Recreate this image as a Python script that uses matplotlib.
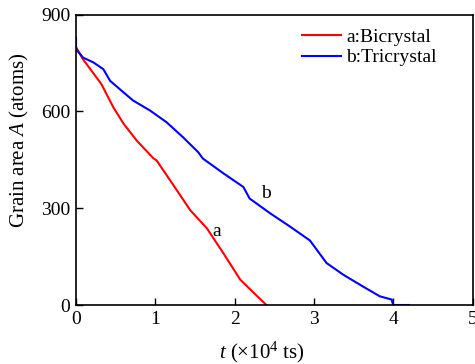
import matplotlib
matplotlib.use("Agg")
import matplotlib.pyplot as plt

plt.rcParams['font.family'] = ['Liberation Serif', 'DejaVu Serif']
plt.rcParams['mathtext.fontset'] = 'custom'
plt.rcParams['mathtext.rm'] = 'Liberation Serif'
plt.rcParams['mathtext.it'] = 'Liberation Serif:italic'

t_a = [0.0, 0.0, 0.085, 0.32, 0.47, 0.6, 0.765, 0.975, 1.017, 1.227, 1.44, 1.65, 1.857, 2.07, 2.24, 2.38, 2.40]
A_a = [830, 800, 763, 685, 613, 562, 510, 455, 448, 372, 294, 238, 161, 79, 38, 5, 0]

t_b = [0.0, 0.0, 0.09, 0.22, 0.345, 0.43, 0.6, 0.72, 0.933, 1.14, 1.35, 1.54, 1.6, 1.86, 2.11, 2.19,
       2.45, 2.70, 2.95, 3.16, 3.37, 3.58, 3.83, 3.98, 4.0, 4.2]
A_b = [825, 793, 767, 752, 731, 695, 659, 634, 603, 567, 520, 474, 454, 408, 366, 330,
       284, 243, 200, 130, 94, 63, 27, 17, 0, 0]

xticks = [0, 1, 2, 3, 4, 5]
yticks = [0, 300, 600, 900]

W, H = 475, 364
fig = plt.figure(figsize=(W/100, H/100), dpi=100)
ax = fig.add_axes([76/W, 1 - 305/H, (472.5-76)/W, (305-14.7)/H])

ax.plot(t_a, A_a, color='#ff0000', lw=1.5, label='a:Bicrystal')
ax.plot(t_b, A_b, color='#0000ff', lw=1.5, label='b:Tricrystal')

ax.set_xlim(0, 5)
ax.set_ylim(0, 900)
ax.set_xticks(xticks)
ax.set_yticks(yticks)
ax.tick_params(direction='in', length=5, width=1, labelsize=14, top=False, right=False, pad=4)
for s in ax.spines.values():
    s.set_linewidth(1.2)

ax.text(1.77, 229, 'a', fontsize=14, ha='center', va='center')
ax.text(2.4, 345, 'b', fontsize=14, ha='center', va='center')

ax.set_ylabel('Grain area $A$ (atoms)', fontsize=15, va='center')
ax.yaxis.set_label_coords(-(76-19)/(472.5-76), (305-140)/(305-14.7))
ax.set_xlabel('$t$ (\u00d710$^{4}$ ts)', fontsize=15, va='center')
ax.xaxis.set_label_coords((262-76)/(472.5-76), -(352-305)/(305-14.7))

leg = ax.legend(loc='upper left', bbox_to_anchor=((288-76)/(472.5-76), 1.0), frameon=False, fontsize=14,
                handlelength=2.0, handletextpad=0.3, labelspacing=0.15, borderaxespad=0.3)

fig.savefig('out.png', dpi=100)
